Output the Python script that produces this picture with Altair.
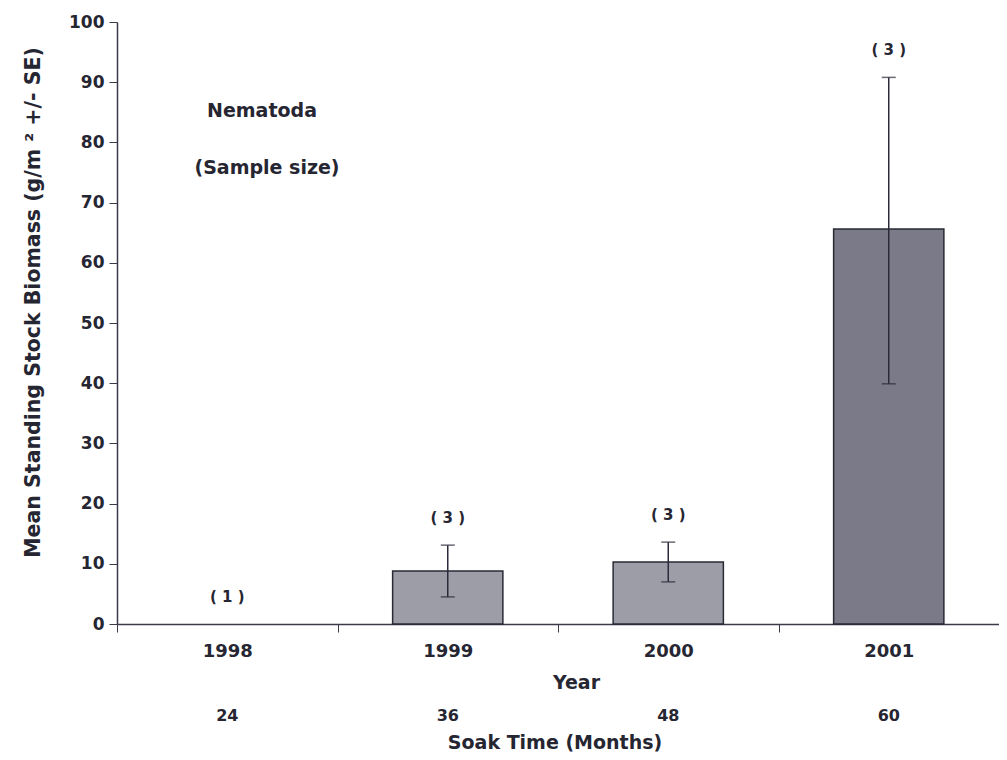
import altair as alt
import pandas as pd

years = ["1998", "1999", "2000", "2001"]
soak_months = ["24", "36", "48", "60"]
mean_biomass = [0.0, 8.8, 10.3, 65.6]
se_low = [0.0, 4.5, 7.0, 39.9]
se_high = [0.0, 13.1, 13.6, 90.8]
sample_size = [1, 3, 3, 3]

df = pd.DataFrame({
    "year": years,
    "soak": soak_months,
    "mean": mean_biomass,
    "low": se_low,
    "high": se_high,
    "n": sample_size,
})
df["n_label"] = ["( %d )" % n for n in sample_size]

W, H = 882, 602
FONT = "DejaVu Sans"
INK = "#262632"
LINE = "#3a3a48"

xscale = alt.Scale(domain=years, paddingInner=0, paddingOuter=0)
x = alt.X("year:N", scale=xscale, sort=years,
          axis=alt.Axis(title="Year", labelAngle=0, tickBand="extent", tickSize=8,
                        labelPadding=10, labelFontSize=18, labelFont=FONT, labelColor=INK,
                        labelFontWeight="bold",
                        titleFontSize=19, titleFont=FONT, titleColor=INK, titleFontWeight="bold",
                        titleX=459, titleY=58, titleAlign="center", titleBaseline="middle",
                        domainColor=LINE, tickColor=LINE, domainWidth=1.5))
yscale = alt.Scale(domain=[0, 100], nice=False)
yaxis = alt.Axis(title="Mean Standing Stock Biomass (g/m ² +/- SE)", values=list(range(0, 101, 10)),
                 tickSize=8, labelPadding=5, labelFontSize=17, labelFont=FONT, labelColor=INK,
                 labelFontWeight="bold", grid=False,
                 titleFontSize=20.5, titleFont=FONT, titleColor=INK, titleFontWeight="bold",
                 titleX=-84, titleY=280, titleAngle=270, titleAlign="center", titleBaseline="middle",
                 domainColor=LINE, tickColor=LINE, domainWidth=1.5)

base = alt.Chart(df)
xc = alt.X("year:N", scale=xscale, sort=years)

bars = base.transform_filter("datum.mean > 0").mark_bar(
    stroke="#2a2a36", strokeWidth=1.5, width=alt.RelativeBandSize(0.5)
).encode(
    x=x,
    y=alt.Y("mean:Q", scale=yscale, axis=yaxis),
    color=alt.condition("datum.year == '2001'", alt.value("#7a7a88"), alt.value("#9d9da8")),
)

err = base.transform_filter("datum.mean > 0").mark_rule(color="#2a2a3a", strokeWidth=1.5).encode(
    x=xc,
    y=alt.Y("low:Q", scale=yscale),
    y2="high:Q",
)
cap_hi = base.transform_filter("datum.mean > 0").mark_tick(
    color="#2a2a3a", thickness=1.5, size=14, orient="horizontal"
).encode(x=xc, y=alt.Y("high:Q", scale=yscale))
cap_lo = base.transform_filter("datum.mean > 0").mark_tick(
    color="#2a2a3a", thickness=1.5, size=14, orient="horizontal"
).encode(x=xc, y=alt.Y("low:Q", scale=yscale))

nlab = base.mark_text(font=FONT, fontSize=15, fontWeight="bold", color=INK, dy=-27, baseline="middle").encode(
    x=xc,
    y=alt.Y("high:Q", scale=yscale),
    text="n_label:N",
)

soak = base.mark_text(font=FONT, fontSize=16, fontWeight="bold", color=INK, baseline="middle").encode(
    x=xc,
    y=alt.value(H + 92),
    text="soak:N",
)

notes = pd.DataFrame({
    "t": ["Nematoda", "(Sample size)", "Soak Time (Months)"],
    "px": [145, 150, 438],
    "py": [89, 146, H + 119],
})
note_layer = alt.Chart(notes).mark_text(font=FONT, fontSize=19, fontWeight="bold", color=INK, baseline="middle").encode(
    x=alt.X("px:Q", scale=None, axis=None),
    y=alt.Y("py:Q", scale=None, axis=None),
    text="t:N",
)

chart = alt.layer(bars, err, cap_hi, cap_lo, nlab, soak, note_layer).properties(
    width=W, height=H,
    autosize=alt.AutoSizeParams(type="none"),
    padding={"left": 109, "top": 14, "right": 0, "bottom": 128},
    background="white",
).configure_view(stroke=None, strokeWidth=0)

chart.save("out.html", embed_options={"renderer": "svg", "actions": False})
